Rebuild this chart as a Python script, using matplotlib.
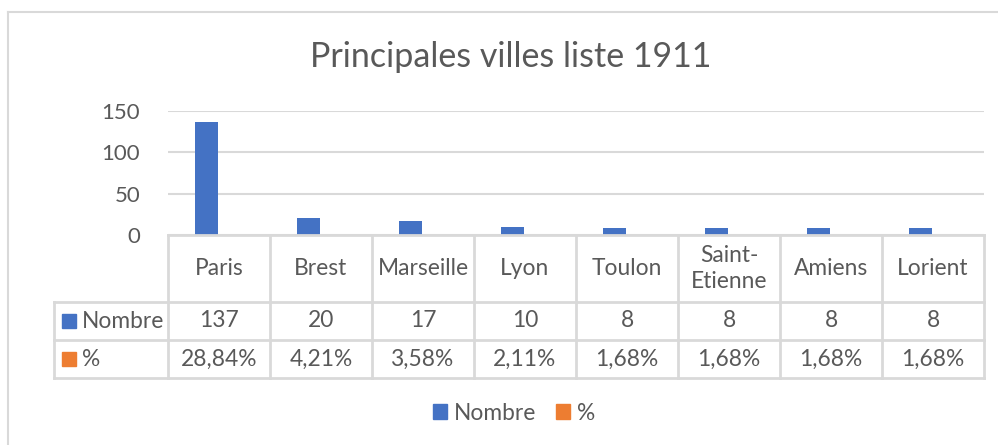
import matplotlib.pyplot as plt
from matplotlib.patches import Patch, Rectangle
from matplotlib.lines import Line2D
import numpy as np

villes = ["Paris", "Brest", "Marseille", "Lyon", "Toulon", "Saint-\nEtienne", "Amiens", "Lorient"]
nombre = [137, 20, 17, 10, 8, 8, 8, 8]
pct = [0.2884, 0.0421, 0.0358, 0.0211, 0.0168, 0.0168, 0.0168, 0.0168]
pct_labels = ["28,84%", "4,21%", "3,58%", "2,11%", "1,68%", "1,68%", "1,68%", "1,68%"]

blue = "#4472c4"
orange = "#ed7d31"
grid = "#d9d9d9"
txt = "#595959"

plt.rcParams["font.family"] = ["Lato", "DejaVu Sans"]

W, H = 998, 445
fig = plt.figure(figsize=(W / 100, H / 100), dpi=100)

# plot area in pixels
x0, x1, ytop, ybot = 168, 984, 111, 235
ax = fig.add_axes([x0 / W, 1 - ybot / H, (x1 - x0) / W, (ybot - ytop) / H])

x = np.arange(len(villes))
ax.bar(x - 0.125, nombre, width=0.225, color=blue, zorder=3)
ax.bar(x + 0.125, pct, width=0.225, color=orange, zorder=3)

ax.set_xlim(-0.5, len(villes) - 0.5)
ax.set_ylim(0, 150)
ax.set_yticks([0, 50, 100, 150])
ax.set_yticklabels(["0", "50", "100", "150"], fontsize=16, color=txt)
ax.tick_params(axis="y", length=0, pad=20)
ax.set_xticks([])
ax.grid(axis="y", color=grid, linewidth=1.5, zorder=0)
for s in ax.spines.values():
    s.set_visible(False)


# data table below the plot, drawn in data-x / pixel-y
def ya(ypix):
    return (ybot - ypix) / (ybot - ytop)


tr = ax.get_xaxis_transform()
xl = -0.5 - (x0 - 54) / ((x1 - x0) / len(villes))
r1, r2, r3 = 302, 340, 378
lk = dict(color=grid, linewidth=2, transform=tr, clip_on=False, zorder=4)
ax.plot([-0.5, len(villes) - 0.5], [0, 0], **lk)
for yy in (r1, r2, r3):
    ax.plot([xl, len(villes) - 0.5], [ya(yy), ya(yy)], **lk)
for i in range(len(villes) + 1):
    ax.plot([i - 0.5, i - 0.5], [0, ya(r3)], **lk)
ax.plot([xl, xl], [ya(r1), ya(r3)], **lk)

fs = 16.4
for i, v in enumerate(villes):
    ax.text(i, ya((ybot + r1) / 2), v, ha="center", va="center", fontsize=fs,
            color=txt, transform=tr, linespacing=1.35)
    ax.text(i, ya((r1 + r2) / 2), str(nombre[i]), ha="center", va="center",
            fontsize=fs, color=txt, transform=tr)
    ax.text(i, ya((r2 + r3) / 2), pct_labels[i], ha="center", va="center",
            fontsize=fs, color=txt, transform=tr)

# row labels with colour keys
for yy0, yy1, lab, c in [(r1, r2, "Nombre", blue), (r2, r3, "%", orange)]:
    yc = (yy0 + yy1) / 2
    fig.patches.append(Rectangle((62 / W, 1 - (yc + 7) / H), 14 / W, 14 / H,
                                 color=c, transform=fig.transFigure))
    fig.text(82 / W, 1 - yc / H, lab, ha="left", va="center", fontsize=fs, color=txt)

fig.suptitle("Principales villes liste 1911", x=511 / W, y=1 - 57 / H, va="center",
             fontsize=24.5, color=txt)

handles = [Patch(color=blue, label="Nombre"), Patch(color=orange, label="%")]
fig.legend(handles=handles, loc="center", bbox_to_anchor=(514 / W, 1 - 413 / H), ncol=2,
           frameon=False, fontsize=16.4, labelcolor=txt, handlelength=0.6,
           handleheight=0.6, handletextpad=0.3, columnspacing=0.9)

# chart border
fig.add_artist(Line2D([8 / W, 8 / W], [0, 1 - 12 / H], color=grid, linewidth=1.5))
fig.add_artist(Line2D([8 / W, 1], [1 - 12 / H, 1 - 12 / H], color=grid, linewidth=1.5))

fig.savefig("out.png", dpi=100)
